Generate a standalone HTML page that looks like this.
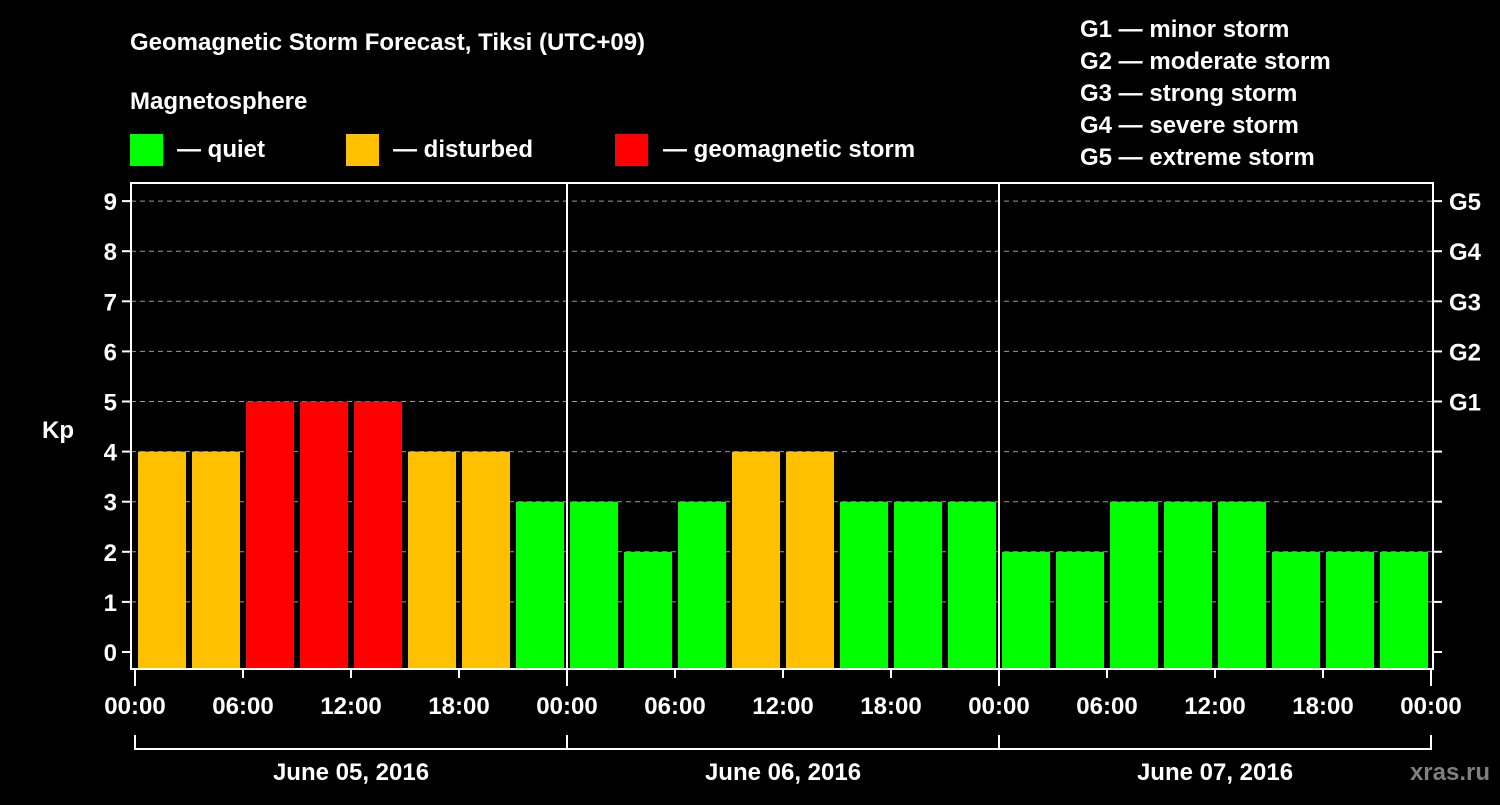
<!DOCTYPE html>
<html><head><meta charset="utf-8"><style>
body{margin:0;background:#000;width:1500px;height:800px;overflow:hidden}
svg text{font-family:"Liberation Sans",sans-serif;font-weight:bold;fill:#fff}
</style></head><body>
<svg id="c" width="1500" height="800">
<text x="130" y="50" font-size="24">Geomagnetic Storm Forecast, Tiksi (UTC+09)</text>
<text x="130" y="109" font-size="24">Magnetosphere</text>
<rect x="130" y="134" width="33" height="32" fill="#00ff00"/>
<text x="177" y="157" font-size="24">— quiet</text>
<rect x="346" y="134" width="33" height="32" fill="#ffc000"/>
<text x="393" y="157" font-size="24">— disturbed</text>
<rect x="615" y="134" width="33" height="32" fill="#ff0000"/>
<text x="663" y="157" font-size="24">— geomagnetic storm</text>
<g font-size="24">
<text x="1080" y="37">G1 — minor storm</text>
<text x="1080" y="69">G2 — moderate storm</text>
<text x="1080" y="101">G3 — strong storm</text>
<text x="1080" y="133">G4 — severe storm</text>
<text x="1080" y="165">G5 — extreme storm</text>
</g>
<text x="42" y="438" font-size="24">Kp</text>
<text x="1500" y="780" font-size="24" text-anchor="end" fill="#888" style="fill:#7f7f7f" dx="-10">xras.ru</text>
<g id="grid"></g><g id="bars"></g><g id="axes"></g>
</svg>
<script>
const kpValues=[4,4,5,5,5,4,4,3, 3,2,3,4,4,3,3,3, 2,2,3,3,3,2,2,2];
const dayLabels=["June 05, 2016","June 06, 2016","June 07, 2016"];
const hourLabels=["00:00","06:00","12:00","18:00"];
const gLabels=["G1","G2","G3","G4","G5"];
const yTicks=[0,1,2,3,4,5,6,7,8,9];
const NS="http://www.w3.org/2000/svg";
const L=131,R=1433,T=183,B=669,X0=135,DAYW=432;
const y=v=>652-v*50.1;
const x=h=>X0+h*DAYW/24;
function mk(tag,at,parent){const e=document.createElementNS(NS,tag);for(const k in at)e.setAttribute(k,at[k]);document.getElementById(parent).appendChild(e);return e;}
yTicks.forEach(v=>{
  if(v>0){const g=mk('line',{x1:L,x2:R,y1:y(v),y2:y(v),stroke:'#999','stroke-dasharray':'5,4','stroke-width':1},'grid');
  
  }
  const t=mk('line',{x1:L-9,x2:L,y1:y(v),y2:y(v),stroke:'#fff','stroke-width':2},'axes');
  
  
  const t2=mk('line',{x1:R,x2:R+9,y1:y(v),y2:y(v),stroke:'#fff','stroke-width':2},'axes');
  
  
  const l=mk('text',{x:L-14,y:y(v)+9,'font-size':24,'text-anchor':'end'},'axes');l.textContent=v;
  
  
});
gLabels.forEach((g,i)=>{const l=mk('text',{x:R+16,y:y(5+i)+9,'font-size':24},'axes');l.textContent=g;
  
  });
kpValues.forEach((v,i)=>{
  const c=v>=5?'#ff0000':v>=4?'#ffc000':'#00ff00';
  const r=mk('rect',{x:x(i*3)+3,y:y(v),width:48,height:B-y(v),fill:c},'bars');
  
  
});
const box=mk('rect',{x:L,y:T,width:R-L,height:B-T,fill:'none',stroke:'#fff','stroke-width':2},'axes');


for(let d=1;d<dayLabels.length;d++){const s=mk('line',{x1:x(d*24),x2:x(d*24),y1:T,y2:B,stroke:'#fff','stroke-width':2},'axes');
  
  }
for(let d=0;d<dayLabels.length;d++){
  for(let h=0;h<4;h++){const hx=x(d*24+h*6);
    const tk=mk('line',{x1:hx,x2:hx,y1:B,y2:B+(h===0?17:9),stroke:'#fff','stroke-width':2},'axes');
    
    
    const t=mk('text',{x:hx,y:714,'font-size':24,'text-anchor':'middle'},'axes');t.textContent=hourLabels[h];
    
    }
  const dl=mk('text',{x:x(d*24+12),y:780,'font-size':24,'text-anchor':'middle'},'axes');dl.textContent=dayLabels[d];
  
  
}
const ex=x(72);
const et=mk('line',{x1:ex,x2:ex,y1:B,y2:B+17,stroke:'#fff','stroke-width':2},'axes');


const el=mk('text',{x:ex,y:714,'font-size':24,'text-anchor':'middle'},'axes');el.textContent=hourLabels[0];


const br=mk('path',{d:`M${x(0)},735V749H${ex}V735 M${x(24)},735V749 M${x(48)},735V749`,stroke:'#fff','stroke-width':2,fill:'none'},'axes');


</script>
</body></html>
